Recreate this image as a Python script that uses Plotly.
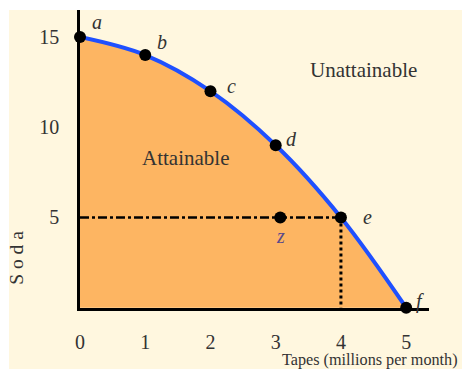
import plotly.graph_objects as go

# Production possibilities frontier: tapes vs soda
point_labels = ["a", "b", "c", "d", "e", "f"]
tapes = [0, 1, 2, 3, 4, 5]
soda = [15, 14, 12, 9, 5, 0]

# An inefficient (attainable, interior) combination
z_tapes = [3.07]
z_soda = [5]

x_ticks = [0, 1, 2, 3, 4, 5]
y_ticks = [5, 10, 15]

CREAM = "#FFF7DF"
ORANGE = "#FDB562"
BLUE = "#1F50FF"
TEXT = "#333333"
SERIF = "Liberation Serif, Times New Roman, serif"

fig = go.Figure()

# Attainable region under the frontier
fig.add_trace(go.Scatter(
    x=tapes, y=soda, mode="lines", line=dict(color=BLUE, width=4, shape="spline"),
    fill="tozeroy", fillcolor=ORANGE, hoverinfo="skip",
))

# Guide lines to point e
e_x, e_y = tapes[4], soda[4]
fig.add_trace(go.Scatter(
    x=[0, e_x], y=[e_y, e_y], mode="lines",
    line=dict(color="black", width=2.5, dash="dashdot"), hoverinfo="skip",
))
fig.add_trace(go.Scatter(
    x=[e_x, e_x], y=[e_y, 0], mode="lines",
    line=dict(color="black", width=3, dash="dot"), hoverinfo="skip",
))

# Frontier points and point z
fig.add_trace(go.Scatter(
    x=tapes, y=soda, mode="markers", marker=dict(color="black", size=12),
    cliponaxis=False, hoverinfo="skip",
))
fig.add_trace(go.Scatter(
    x=z_tapes, y=z_soda, mode="markers", marker=dict(color="black", size=12),
    hoverinfo="skip",
))

# Point letters
shifts = {"a": (17, 15), "b": (17, 13), "c": (21, 5), "d": (16, 6), "e": (27, 0), "f": (14, 6)}
for lab, x, y in zip(point_labels, tapes, soda):
    dx, dy = shifts[lab]
    fig.add_annotation(x=x, y=y, text=lab, showarrow=False, xshift=dx, yshift=dy,
                       font=dict(family=SERIF, size=20, color=TEXT, style="italic"))
fig.add_annotation(x=z_tapes[0], y=z_soda[0], text="z", showarrow=False, xshift=0, yshift=-19,
                   font=dict(family=SERIF, size=20, color="#5A4A8A", style="italic"))

# Region names
fig.add_annotation(x=1.61, y=8.29, text="Attainable", showarrow=False,
                   font=dict(family=SERIF, size=21, color=TEXT))
fig.add_annotation(x=4.34, y=13.17, text="Unattainable", showarrow=False,
                   font=dict(family=SERIF, size=21, color=TEXT))

# Axis titles
fig.add_annotation(xref="paper", yref="paper", x=1.0888, y=-0.175, xanchor="right", yanchor="middle",
                   text="Tapes (millions per month)", showarrow=False,
                   font=dict(family=SERIF, size=16.2, color=TEXT))
fig.add_annotation(xref="paper", yref="paper", x=-0.182, y=0.17, textangle=-90,
                   xanchor="center", yanchor="middle",
                   text="S o d a", showarrow=False,
                   font=dict(family=SERIF, size=19.5, color=TEXT))

# Cream backdrop behind the whole chart
fig.add_shape(type="rect", xref="paper", yref="paper", x0=-0.2034, x1=1.1, y0=-0.23, y1=1.0,
              fillcolor=CREAM, line=dict(width=0), layer="below")

fig.update_xaxes(range=[0, 5.35], tickvals=x_ticks, showgrid=False, zeroline=False,
                 showline=True, linecolor="black", linewidth=2.5, ticks="",
                 ticklabelstandoff=14, tickfont=dict(family=SERIF, size=20, color=TEXT))
fig.update_yaxes(range=[-0.02, 16.5], tickvals=y_ticks, showgrid=False, zeroline=False,
                 showline=True, linecolor="black", linewidth=2.5, ticks="",
                 ticklabelstandoff=14, tickfont=dict(family=SERIF, size=20, color=TEXT))

fig.update_layout(
    width=462, height=369, showlegend=False,
    margin=dict(l=80, r=33, t=10, b=61),
    paper_bgcolor="white", plot_bgcolor="rgba(0,0,0,0)",
)

fig.write_html("out.html")
